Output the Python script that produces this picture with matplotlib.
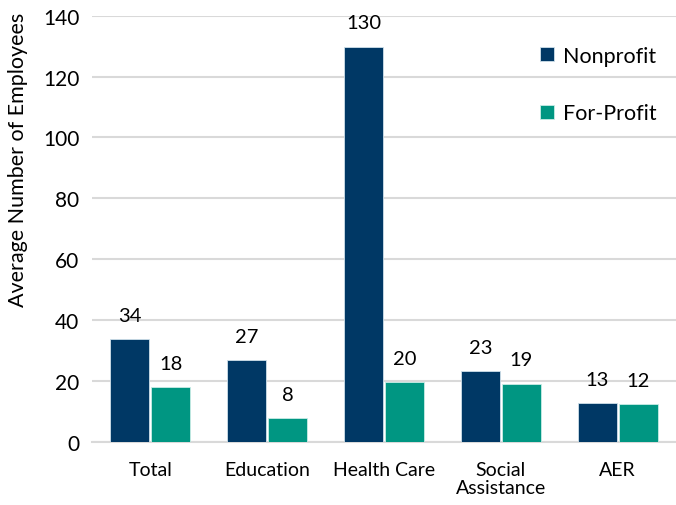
import numpy as np
from matplotlib import pyplot as plt

plt.rcParams['font.family'] = ['Lato', 'DejaVu Sans']

categories = ['Total', 'Education', 'Health Care', 'Social\nAssistance', 'AER']
nonprofit = [33.8, 26.9, 129.8, 23.3, 12.8]
forprofit = [18.0, 7.8, 19.7, 19.1, 12.4]

navy = '#003865'
teal = '#009682'

fig = plt.figure(figsize=(6.76, 5.06), dpi=100)
ax = fig.add_axes([0.136, 0.125, 0.864, 0.842])

x = np.arange(len(categories))
w = 0.335
b1 = ax.bar(x - w/2 - 0.008, nonprofit, w, color=navy, edgecolor='#cfe0ea', linewidth=0.6,
            label='Nonprofit', zorder=3)
b2 = ax.bar(x + w/2 + 0.008, forprofit, w, color=teal, edgecolor='#c8ece6', linewidth=0.6,
            label='For-Profit', zorder=3)

for bars, vals in [(b1, nonprofit), (b2, forprofit)]:
    for rect, v in zip(bars, vals):
        ax.annotate(f'{v:.0f}', (rect.get_x() + rect.get_width()/2, v),
                    xytext=(0, 11), textcoords='offset points',
                    ha='center', va='bottom', fontsize=14.5)

ax.set_ylim(0, 140)
ax.set_xlim(-0.5, len(categories) - 0.5)
ax.set_yticks(range(0, 141, 20))
ax.set_xticks(x)
ax.set_xticklabels(categories, fontsize=14, linespacing=1.05)
ax.tick_params(axis='y', labelsize=15, length=0, pad=9)
ax.tick_params(axis='x', length=0, pad=14)
ax.yaxis.grid(True, color='#d9d9d9', linewidth=1.5, zorder=0)
for s in ['top', 'right', 'left']:
    ax.spines[s].set_visible(False)
ax.spines['bottom'].set_color('#d9d9d9')
ax.spines['bottom'].set_linewidth(1.5)
ax.set_ylabel('Average Number of Employees', fontsize=15.5)
ax.yaxis.set_label_coords(-0.11, 0.665)

ax.legend(loc='upper right', frameon=False, fontsize=15.5, handlelength=0.65,
          handleheight=0.65, handletextpad=0.4, labelspacing=1.75,
          bbox_to_anchor=(1.0, 0.975))

plt.savefig('out.png')
